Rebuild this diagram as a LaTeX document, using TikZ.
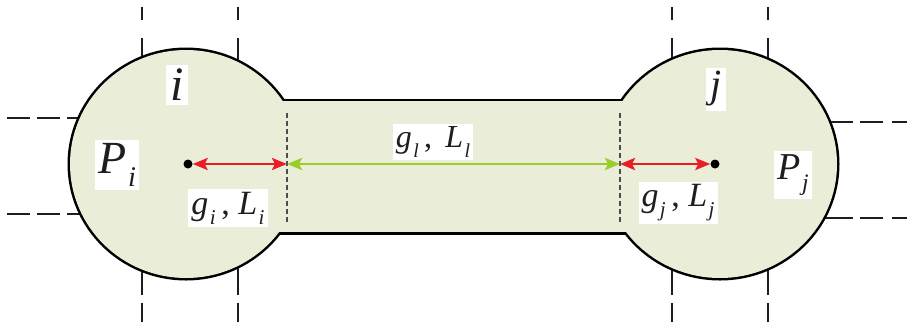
\documentclass[tikz,border=0pt]{standalone}
\usepackage{fontspec}
\setmainfont{Liberation Serif}
\usetikzlibrary{arrows.meta}
\definecolor{cellfill}{RGB}{234,238,216}
\definecolor{linkred}{RGB}{232,30,38}
\definecolor{linkgreen}{RGB}{156,204,44}
\definecolor{inkgray}{RGB}{30,30,30}
\newcommand\sbs[2]{\textit{#1}\kern0.04em\raisebox{-0.3em}{\scalebox{0.62}{\textit{#2}}}}
\tikzset{
  gridline/.style={line width=2.2pt, inkgray},
  innerdash/.style={line width=1.1pt, black!70, dash pattern=on 5pt off 3pt},
  lbl/.style={fill=white, inner sep=3pt, text=inkgray},
  dotnode/.style={circle, fill=black, minimum size=9pt, inner sep=0pt},
  tipstyle/.style={{Stealth[length=15pt,width=12pt,inset=3pt]}-{Stealth[length=15pt,width=12pt,inset=3pt]}},
  redarrow/.style={line width=2.8pt, linkred, tipstyle},
  greenarrow/.style={line width=2.8pt, linkgreen, tipstyle},
}
\begin{document}
\begin{tikzpicture}[x=1pt,y=-1pt]
\useasboundingbox (0,0) rectangle (907,322);
% grid lines behind the cells
\foreach \xx in {142,238,672,768}{
  \draw[gridline, dash pattern=on 13pt off 18pt on 90pt off 0pt] (\xx,7) -- (\xx,110);
  \draw[gridline, dash pattern=on 19pt off 8pt on 90pt off 0pt] (\xx,322) -- (\xx,220);
}
\foreach \yy in {118,214}{
  \draw[gridline, dash pattern=on 23pt off 7pt on 23pt off 7pt on 90pt off 0pt] (7,\yy) -- (125,\yy);
}
\foreach \yy in {122,218}{
  \draw[gridline, dash pattern=on 15pt off 9pt on 23pt off 7pt on 90pt off 0pt] (907,\yy) -- (790,\yy);
}
% bubble shape: outline then fill
\draw[line width=5pt, black] (186,164) ellipse [x radius=116, y radius=114];
\draw[line width=5pt, black] (720,164) ellipse [x radius=117, y radius=114];
\draw[line width=5pt, black] (275,101) rectangle (630,232);
\fill[cellfill] (186,164) ellipse [x radius=116, y radius=114];
\fill[cellfill] (720,164) ellipse [x radius=117, y radius=114];
\fill[cellfill] (275,101) rectangle (630,232);
% inner boundaries
\draw[innerdash] (287,113) -- (287,222);
\draw[innerdash] (620,113) -- (620,222);
% centres and links
\node[dotnode] (ci) at (188,164) {};
\node[dotnode] (cj) at (715,164) {};
\coordinate (nl) at (287,164);
\coordinate (nr) at (620,164);
\draw[redarrow] (ci.east) -- (nl);
\draw[redarrow] (nr) -- (cj.west);
\draw[greenarrow] (nl) -- (nr);
% labels
\node[lbl, inner sep=4pt, font=\fontsize{48}{48}\selectfont] (il) at (177,85) {\textit{i}};
\node[lbl, inner sep=4pt, font=\fontsize{40}{40}\selectfont] (jl) at (716,89) {\textit{j}};
\node[lbl, font=\fontsize{46}{46}\selectfont] (pi) at (117,165) {\sbs{P}{i}};
\node[lbl, font=\fontsize{38}{38}\selectfont] (pj) at (793,175) {\sbs{P}{j}};
\node[lbl, font=\fontsize{34}{34}\selectfont] (gi) at (228,208) {\sbs{g}{i}\,, \sbs{L}{i}};
\node[lbl, font=\fontsize{34}{34}\selectfont] (gj) at (678,203) {\sbs{g}{j}\,, \sbs{L}{j}};
\node[lbl, font=\fontsize{32}{32}\selectfont] (gl) at (433,142) {\sbs{g}{l}\,, \,\sbs{L}{l}};
\end{tikzpicture}
\end{document}
